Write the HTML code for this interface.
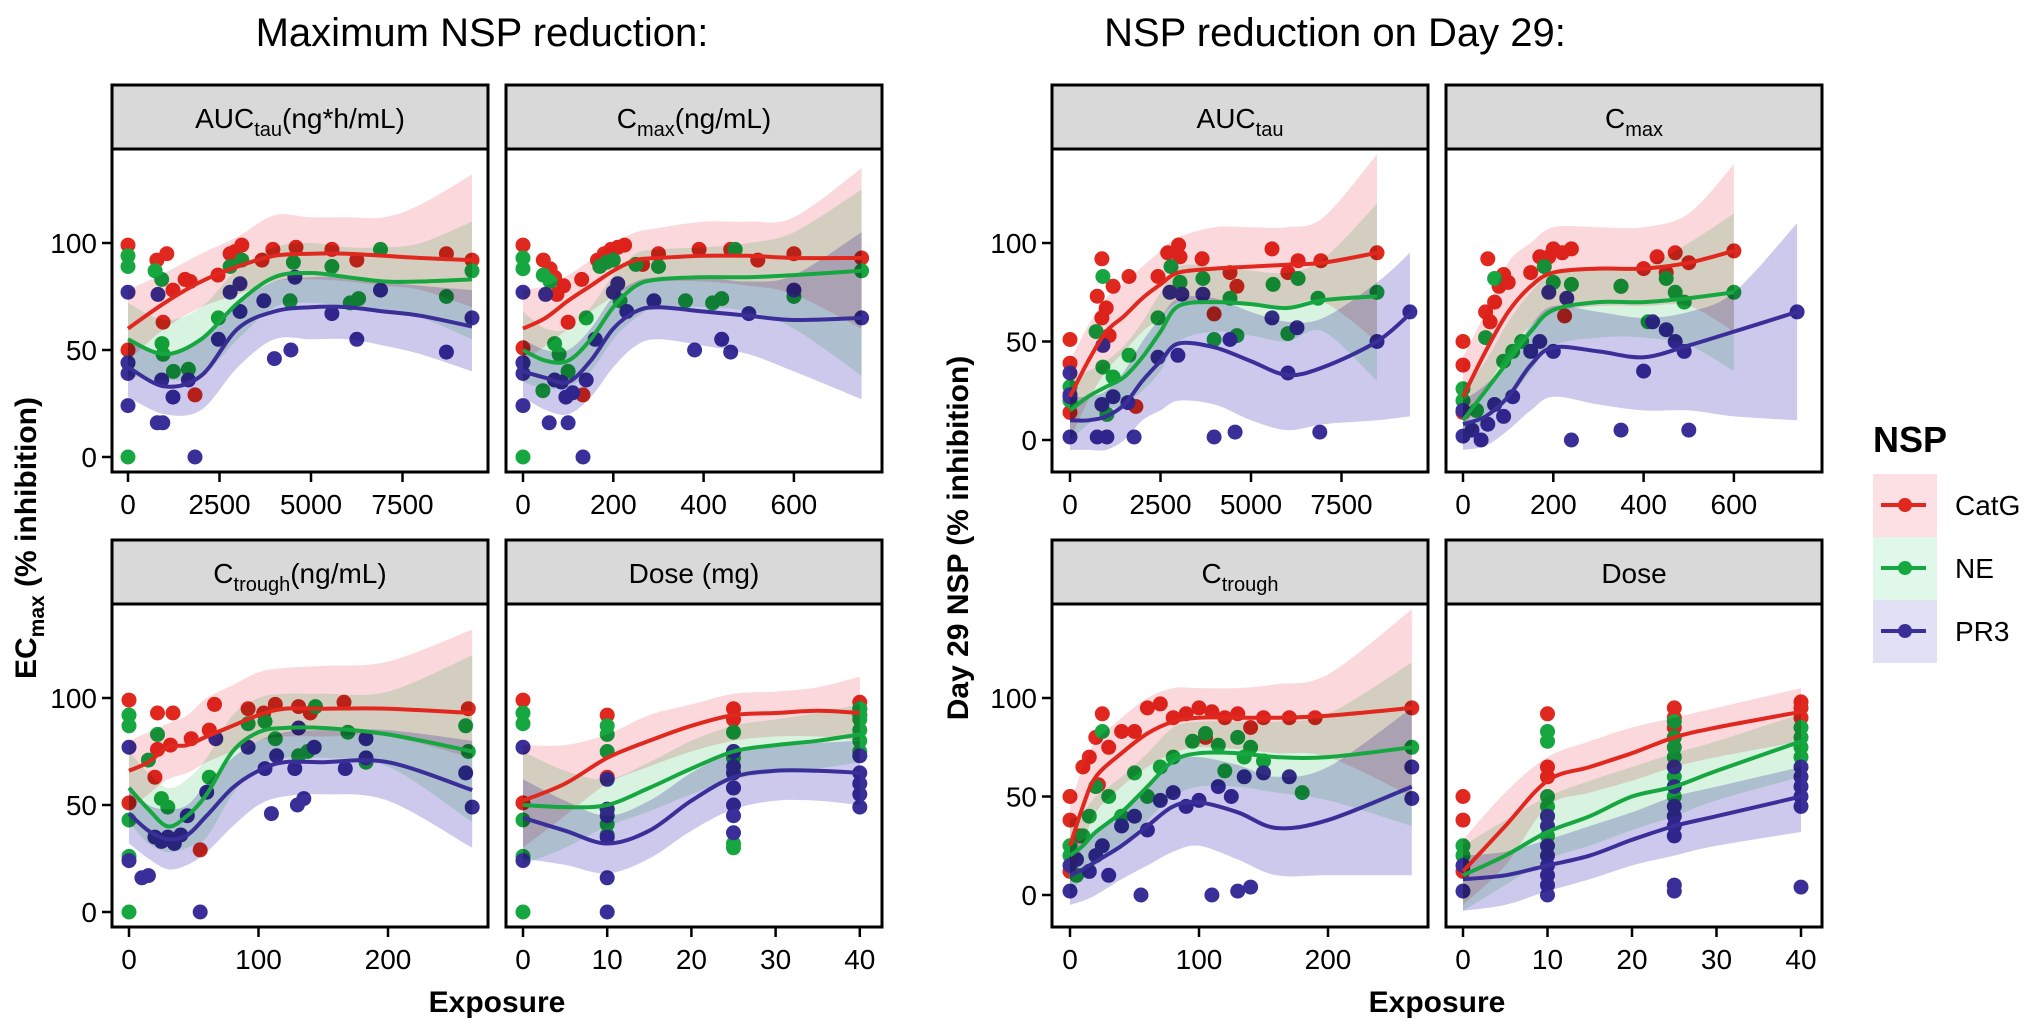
<!DOCTYPE html>
<html><head><meta charset="utf-8"><title>NSP reduction</title>
<style>
html,body{margin:0;padding:0;background:#fff;}
svg{display:block;font-family:"Liberation Sans",Arial,sans-serif;}
.rib{mix-blend-mode:multiply;}
</style></head>
<body>
<svg id="chart" width="2026" height="1027" viewBox="0 0 2026 1027">
<rect x="0" y="0" width="2026" height="1027" fill="#fff"/>
<text x="482" y="46" font-size="40" text-anchor="middle">Maximum NSP reduction:</text>
<text x="1335" y="46" font-size="40" text-anchor="middle">NSP reduction on Day 29:</text>
<g id="panels"></g>
<text transform="translate(36,538) rotate(-90)" font-size="30" font-weight="bold" text-anchor="middle">EC<tspan font-size="21" dy="8">max</tspan><tspan dy="-8"> (% inhibition)</tspan></text>
<text transform="translate(968,538) rotate(-90)" font-size="30" font-weight="bold" text-anchor="middle">Day 29 NSP (% inhibition)</text>
<text x="497" y="1012" font-size="30" font-weight="bold" text-anchor="middle">Exposure</text>
<text x="1437" y="1012" font-size="30" font-weight="bold" text-anchor="middle">Exposure</text>
<g>
<text x="1873" y="452" font-size="36" font-weight="bold">NSP</text>
<g><rect x="1873" y="474" width="64" height="63" fill="#fde0e3"/><line x1="1881" y1="505" x2="1926" y2="505" stroke="#e0281e" stroke-width="4"/><circle cx="1905" cy="505" r="7" fill="#e0281e"/><text x="1955" y="515" font-size="28">CatG</text></g>
<g><rect x="1873" y="537" width="64" height="63" fill="#e0f8e9"/><line x1="1881" y1="568" x2="1926" y2="568" stroke="#16a740" stroke-width="4"/><circle cx="1905" cy="568" r="7" fill="#16a740"/><text x="1955" y="578" font-size="28">NE</text></g>
<g><rect x="1873" y="600" width="64" height="63" fill="#e2e0f5"/><line x1="1881" y1="631" x2="1926" y2="631" stroke="#3a2f98" stroke-width="4"/><circle cx="1905" cy="631" r="7" fill="#3a2f98"/><text x="1955" y="641" font-size="28">PR3</text></g>
</g>
</svg>
<script>
// ---------- Panel LA: Max reduction vs AUC ----------
const laCatgX=[0,0,790,960,1060,1230,1560,1700,1830,2460,2790,2920,3110,3660,3960,4590,5570,6250,8700,9400];
const laCatgY=[99,50,92,63,95,78,83,82,29,85,95,96,99,92,97,98,97,92,95,92];
const laNeX=[0,0,0,0,740,920,930,960,1240,1650,2470,2790,3110,4430,4520,5570,6070,6300,6900,8700,9400];
const laNeY=[94,89,44,0,87,83,53,48,40,41,65,89,92,73,91,89,72,74,97,75,87];
const laPr3X=[0,0,0,0,820,800,950,920,1230,1650,1830,2470,2790,3060,3060,3710,4000,4450,4560,5570,6250,6900,8700,9400];
const laPr3Y=[77,44,39,24,76,16,16,36,28,36,0,55,77,81,68,73,46,50,84,67,55,78,49,65];
const laFitX=[0,1000,2000,3000,4000,5000,6000,7000,8000,9400];
const laCatgFit=[60,72,82,89,94,95,95,94,93,92];
const laCatgLo=[45,60,70,76,82,83,82,80,78,70];
const laCatgHi=[78,86,95,103,113,112,112,112,118,132];
const laNeFit=[55,48,55,72,84,86,84,82,82,83];
const laNeLo=[38,36,38,55,70,72,70,67,65,55];
const laNeHi=[72,64,70,88,98,100,98,98,100,110];
const laPr3Fit=[42,33,38,60,68,70,70,68,66,61];
const laPr3Lo=[28,20,22,42,55,55,55,52,48,40];
const laPr3Hi=[55,48,55,72,82,84,84,82,80,78];
const laTicks=[0,2500,5000,7500];
// ---------- Panel LB: Max reduction vs Cmax ----------
const lbCatgX=[0,0,45,60,70,75,90,100,130,133,165,180,195,210,225,265,300,390,460,520,600,750];
const lbCatgY=[99,51,92,88,84,76,80,63,83,29,92,95,97,98,99,90,95,97,97,92,95,93];
const lbNeX=[0,0,0,0,44,45,60,70,80,100,140,170,185,200,215,250,300,360,420,440,470,600,750];
const lbNeY=[93,88,44,0,31,85,82,53,48,40,65,89,91,92,73,90,89,73,72,74,97,75,87];
const lbPr3X=[0,0,0,0,50,58,70,85,95,100,110,133,140,160,200,210,230,290,380,440,460,500,600,750];
const lbPr3Y=[77,44,39,24,76,16,36,35,28,16,30,0,36,55,77,81,68,73,50,55,49,67,78,65];
const lbFitX=[0,50,100,150,200,250,300,400,500,600,750];
const lbCatgFit=[60,65,73,80,87,92,93,94,94,93,93];
const lbCatgLo=[45,52,60,68,75,80,82,82,80,76,60];
const lbCatgHi=[78,80,85,92,100,105,107,110,110,112,135];
const lbNeFit=[50,45,45,55,70,80,83,84,84,85,87];
const lbNeLo=[35,32,33,40,55,65,70,70,68,60,38];
const lbNeHi=[68,60,60,70,85,95,97,98,100,105,125];
const lbPr3Fit=[40,37,35,45,60,68,70,68,66,64,65];
const lbPr3Lo=[28,22,20,28,42,52,55,52,48,40,27];
const lbPr3Hi=[55,50,50,60,75,82,84,84,82,85,105];
const lbTicks=[0,200,400,600];
// ---------- Panel LC: Max reduction vs Ctrough ----------
const lcCatgX=[0,0,20,22,22,32,34,48,55,62,66,92,104,113,131,140,166,262];
const lcCatgY=[99,51,63,93,76,78,93,81,29,85,97,95,93,97,96,93,98,95];
const lcNeX=[0,0,0,0,0,15,22,25,30,62,92,105,113,131,138,144,169,183,260,262];
const lcNeY=[92,87,43,26,0,71,83,53,49,63,88,89,81,73,75,96,84,70,87,75];
const lcPr3X=[0,0,10,15,20,25,30,35,40,45,55,60,67,92,105,110,114,128,130,131,135,143,167,183,183,260,265];
const lcPr3Y=[77,24,16,17,35,33,35,32,36,45,0,56,81,77,67,46,73,67,50,86,53,77,67,81,72,65,49];
const lcFitX=[0,15,30,45,60,80,100,120,150,200,265];
const lcCatgFit=[66,70,77,78,82,87,92,95,95,95,93];
const lcCatgLo=[48,55,62,65,70,75,80,82,82,82,72];
const lcCatgHi=[80,84,88,92,100,106,112,114,115,117,132];
const lcNeFit=[58,48,40,45,55,75,84,86,86,83,75];
const lcNeLo=[42,32,28,30,35,55,68,72,72,68,42];
const lcNeHi=[75,65,58,62,72,92,100,102,102,103,120];
const lcPr3Fit=[46,38,34,36,45,58,66,70,70,70,57];
const lcPr3Lo=[32,25,20,22,28,40,50,54,55,52,30];
const lcPr3Hi=[58,50,48,50,60,72,80,84,85,85,80];
const lcTicks=[0,100,200];
// ---------- Panel LD: Max reduction vs Dose ----------
const ldCatgX=[0,0,10,10,25,25,40,40,40];
const ldCatgY=[99,51,92,63,95,90,98,95,92];
const ldNeX=[0,0,0,0,0,10,10,10,10,10,10,25,25,25,25,25,25,40,40,40,40,40,40];
const ldNeY=[93,88,43,26,0,87,83,75,48,41,36,84,75,72,58,32,30,95,92,90,85,80,75];
const ldPr3X=[0,0,10,10,10,10,10,10,25,25,25,25,25,25,25,40,40,40,40,40];
const ldPr3Y=[77,24,62,48,45,35,16,0,75,68,65,58,50,45,37,73,65,60,55,49];
const ldFitX=[0,5,10,15,20,25,30,35,40];
const ldCatgFit=[52,60,72,80,87,92,93,94,93];
const ldCatgLo=[30,45,60,68,75,80,82,82,80];
const ldCatgHi=[78,78,83,92,97,102,103,105,110];
const ldNeFit=[50,49,50,58,67,75,78,80,83];
const ldNeLo=[22,30,40,47,55,62,65,67,70];
const ldNeHi=[75,66,62,70,80,87,90,93,97];
const ldPr3Fit=[44,38,32,38,52,63,66,66,65];
const ldPr3Lo=[25,22,18,25,38,48,52,52,50];
const ldPr3Hi=[62,52,45,52,65,75,78,79,80];
const ldTicks=[0,10,20,30,40];
// ---------- Panel RC: Day 29 vs AUC ----------
const rcCatgX=[0,0,0,750,880,880,1000,1080,1190,1630,1820,2430,2700,3000,3040,3650,3980,4420,4610,5580,6020,6300,6930,8480];
const rcCatgY=[51,39,14,73,92,62,67,53,78,83,17,83,95,99,93,92,64,85,78,97,85,91,91,95];
const rcNeX=[0,0,720,910,910,1020,1190,1630,2430,2790,3040,3670,3980,4420,4610,5610,6020,6300,6850,8480];
const rcNeY=[27,20,55,83,37,13,32,43,62,88,80,82,51,72,53,79,54,82,72,75];
const rcPr3X=[0,0,0,0,750,880,910,1020,1190,1600,1770,2430,2760,2980,3090,3670,3980,4420,4560,5580,6020,6270,6900,8480,9390];
const rcPr3Y=[34,22,23,1.5,1.5,18,48,1.5,22,19,1.5,42,75,43,74,74,1.5,51,4,62,34,57,4,50,65];
const rcFitX=[0,500,1000,1500,2000,2500,3000,4000,5000,6000,7000,8480,9390];
const rcCatgFit=[22,40,55,63,72,79,85,87,88,89,90,95,null];
const rcCatgLo=[0,20,35,45,55,62,70,70,68,68,70,50,null];
const rcCatgHi=[40,58,72,80,88,96,103,108,108,108,113,145,null];
const rcNeFit=[15,22,27,32,42,55,68,70,69,67,71,73,null];
const rcNeLo=[0,8,15,18,25,35,50,55,53,50,55,30,null];
const rcNeHi=[30,35,40,48,60,75,88,88,86,85,92,120,null];
const rcPr3Fit=[10,10,12,18,30,40,49,47,40,33,37,50,64];
const rcPr3Lo=[-5,-5,-5,0,10,15,20,18,10,5,8,10,12];
const rcPr3Hi=[22,22,25,35,50,62,72,72,65,60,62,80,95];
const rcTicks=[0,2500,5000,7500];
// ---------- Panel RD: Day 29 vs Cmax ----------
const rdCatgX=[0,0,0,50,55,60,70,80,90,100,150,170,190,200,220,225,240,350,400,430,450,470,500,600];
const rdCatgY=[50,38,14,65,92,60,70,78,84,80,85,93,93,97,95,63,97,78,87,93,85,95,90,96];
const rdNeX=[0,0,30,50,70,90,110,130,180,200,240,350,410,450,470,490,600];
const rdNeY=[26,20,15,52,82,40,45,50,88,80,79,78,60,82,75,70,75];
const rdPr3X=[0,0,20,40,55,70,90,110,150,170,190,200,230,240,350,400,420,450,470,490,500,740];
const rdPr3Y=[2,15,5,0,8,18,12,22,45,50,75,45,72,0,5,35,60,56,50,45,5,65];
const rdFitX=[0,50,100,150,200,300,400,500,600,740];
const rdCatgFit=[22,45,65,78,85,87,87,90,96,null];
const rdCatgLo=[5,25,45,58,65,68,68,68,55,null];
const rdCatgHi=[42,65,90,100,108,108,108,115,140,null];
const rdNeFit=[10,25,40,55,66,70,70,72,75,null];
const rdNeLo=[-3,10,20,35,48,52,52,48,35,null];
const rdNeHi=[25,40,60,75,85,88,88,100,115,null];
const rdPr3Fit=[8,12,22,38,47,45,42,48,55,65];
const rdPr3Lo=[-5,-3,5,15,22,18,15,15,12,10];
const rdPr3Hi=[20,28,40,58,68,65,62,65,75,110];
const rdTicks=[0,200,400,600];
// ---------- Panel RCb: Day 29 vs Ctrough ----------
const rbCatgX=[0,0,0,8,10,15,20,22,25,30,40,50,60,70,80,90,100,105,110,120,130,140,150,170,190,265];
const rbCatgY=[50,38,12,30,65,70,80,56,92,75,83,83,95,97,90,92,95,80,93,90,92,85,90,90,90,95];
const rbNeX=[0,0,5,10,15,20,25,30,40,50,60,70,80,95,105,115,120,130,135,140,150,180,265];
const rbNeY=[25,20,10,30,40,55,83,50,40,62,50,65,70,78,82,76,63,80,70,75,68,52,75];
const rbPr3X=[0,0,5,15,20,25,30,40,50,55,60,70,80,90,100,110,115,125,130,135,140,150,170,265,265];
const rbPr3Y=[2,15,18,12,20,25,10,35,40,0,33,48,52,45,48,0,55,50,2,60,4,62,60,65,49];
const rbFitX=[0,10,20,40,60,80,100,130,160,200,265];
const rbCatgFit=[25,45,60,72,82,88,90,90,90,91,95];
const rbCatgLo=[5,25,42,55,65,72,75,74,72,70,50];
const rbCatgHi=[45,65,78,90,100,105,105,105,107,112,145];
const rbNeFit=[20,25,32,42,55,68,72,72,70,70,75];
const rbNeLo=[2,8,15,25,38,50,55,55,52,48,35];
const rbNeHi=[38,42,50,60,72,85,88,88,88,92,118];
const rbPr3Fit=[10,13,17,25,35,45,47,42,34,38,55];
const rbPr3Lo=[-5,-3,0,8,15,22,25,18,10,10,10];
const rbPr3Hi=[25,28,32,42,55,68,70,66,60,65,95];
const rbTicks=[0,100,200];
// ---------- Panel RDb: Day 29 vs Dose ----------
const rdbCatgX=[0,0,0,10,10,10,25,25,25,40,40,40];
const rdbCatgY=[50,38,12,92,65,60,95,90,85,98,95,90];
const rdbNeX=[0,0,10,10,10,10,10,10,25,25,25,25,25,25,40,40,40,40];
const rdbNeY=[25,20,83,78,50,45,40,30,88,80,75,70,60,50,85,80,75,70];
const rdbPr3X=[0,0,10,10,10,10,10,10,10,10,25,25,25,25,25,25,25,25,40,40,40,40,40,40];
const rdbPr3Y=[15,2,40,35,25,20,15,10,5,0,65,55,45,40,35,30,5,2,65,60,55,50,45,4];
const rdbFitX=[0,5,10,15,20,25,30,40];
const rdbCatgFit=[12,35,58,65,72,80,85,93];
const rdbCatgLo=[-5,15,45,52,58,65,70,78];
const rdbCatgHi=[28,52,70,78,85,90,95,105];
const rdbNeFit=[10,20,32,40,50,55,63,78];
const rdbNeLo=[-8,5,18,25,33,40,48,60];
const rdbNeHi=[25,38,50,58,65,72,78,92];
const rdbPr3Fit=[8,10,15,20,28,35,40,50];
const rdbPr3Lo=[-8,-5,2,8,15,20,25,32];
const rdbPr3Hi=[20,22,28,35,42,50,55,65];
const rdbTicks=[0,10,20,30,40];
const yTicks=[0,50,100];

const NS='http://www.w3.org/2000/svg';
const COL={catg:'#e0281e',ne:'#16a740',pr3:'#3a2f98'};
const RIB={catg:'#fbd8dc',ne:'#d8f3e0',pr3:'#cdc9ec'};
function mk(tag,attrs,parent){const e=document.createElementNS(NS,tag);for(const k in attrs)e.setAttribute(k,attrs[k]);if(parent)parent.appendChild(e);return e;}

const panels=[
 {key:'la',name:'auc-max',label:['AUC','tau','(ng*h/mL)'],left:112,top:149,x0:128,kx:91.5/2500,y0:457,ky:2.14,ticks:laTicks,
  d:[laCatgX,laCatgY,laNeX,laNeY,laPr3X,laPr3Y],f:[laFitX,laCatgFit,laCatgLo,laCatgHi,laNeFit,laNeLo,laNeHi,laPr3Fit,laPr3Lo,laPr3Hi]},
 {key:'lb',name:'cmax-max',label:['C','max','(ng/mL)'],left:506,top:149,x0:523,kx:90.3/200,y0:457,ky:2.14,ticks:lbTicks,
  d:[lbCatgX,lbCatgY,lbNeX,lbNeY,lbPr3X,lbPr3Y],f:[lbFitX,lbCatgFit,lbCatgLo,lbCatgHi,lbNeFit,lbNeLo,lbNeHi,lbPr3Fit,lbPr3Lo,lbPr3Hi]},
 {key:'lc',name:'ctrough-max',label:['C','trough','(ng/mL)'],left:112,top:604,x0:129,kx:129.5/100,y0:912,ky:2.14,ticks:lcTicks,
  d:[lcCatgX,lcCatgY,lcNeX,lcNeY,lcPr3X,lcPr3Y],f:[lcFitX,lcCatgFit,lcCatgLo,lcCatgHi,lcNeFit,lcNeLo,lcNeHi,lcPr3Fit,lcPr3Lo,lcPr3Hi]},
 {key:'ld',name:'dose-max',label:['Dose (mg)','',''],left:506,top:604,x0:523,kx:84.2/10,y0:912,ky:2.14,ticks:ldTicks,
  d:[ldCatgX,ldCatgY,ldNeX,ldNeY,ldPr3X,ldPr3Y],f:[ldFitX,ldCatgFit,ldCatgLo,ldCatgHi,ldNeFit,ldNeLo,ldNeHi,ldPr3Fit,ldPr3Lo,ldPr3Hi]},
 {key:'rc',name:'auc-day29',label:['AUC','tau',''],left:1052,top:149,x0:1070,kx:90.5/2500,y0:440,ky:1.97,ticks:rcTicks,
  d:[rcCatgX,rcCatgY,rcNeX,rcNeY,rcPr3X,rcPr3Y],f:[rcFitX,rcCatgFit,rcCatgLo,rcCatgHi,rcNeFit,rcNeLo,rcNeHi,rcPr3Fit,rcPr3Lo,rcPr3Hi]},
 {key:'rd',name:'cmax-day29',label:['C','max',''],left:1446,top:149,x0:1463,kx:90.3/200,y0:440,ky:1.97,ticks:rdTicks,
  d:[rdCatgX,rdCatgY,rdNeX,rdNeY,rdPr3X,rdPr3Y],f:[rdFitX,rdCatgFit,rdCatgLo,rdCatgHi,rdNeFit,rdNeLo,rdNeHi,rdPr3Fit,rdPr3Lo,rdPr3Hi]},
 {key:'rb',name:'ctrough-day29',label:['C','trough',''],left:1052,top:604,x0:1070,kx:129/100,y0:895,ky:1.97,ticks:rbTicks,
  d:[rbCatgX,rbCatgY,rbNeX,rbNeY,rbPr3X,rbPr3Y],f:[rbFitX,rbCatgFit,rbCatgLo,rbCatgHi,rbNeFit,rbNeLo,rbNeHi,rbPr3Fit,rbPr3Lo,rbPr3Hi]},
 {key:'rdb',name:'dose-day29',label:['Dose','',''],left:1446,top:604,x0:1463,kx:84.5/10,y0:895,ky:1.97,ticks:rdbTicks,
  d:[rdbCatgX,rdbCatgY,rdbNeX,rdbNeY,rdbPr3X,rdbPr3Y],f:[rdbFitX,rdbCatgFit,rdbCatgLo,rdbCatgHi,rdbNeFit,rdbNeLo,rdbNeHi,rdbPr3Fit,rdbPr3Lo,rdbPr3Hi]}
];
const W=376,H=323,SH=64;

function curve(pts,start){
  let d=start?('M'+pts[0][0].toFixed(1)+','+pts[0][1].toFixed(1)):('L'+pts[0][0].toFixed(1)+','+pts[0][1].toFixed(1));
  const n=pts.length;
  for(let i=0;i<n-1;i++){
    const p0=pts[Math.max(i-1,0)],p1=pts[i],p2=pts[i+1],p3=pts[Math.min(i+2,n-1)];
    const c1=[p1[0]+(p2[0]-p0[0])/6,p1[1]+(p2[1]-p0[1])/6];
    const c2=[p2[0]-(p3[0]-p1[0])/6,p2[1]-(p3[1]-p1[1])/6];
    d+=' C'+c1[0].toFixed(1)+','+c1[1].toFixed(1)+' '+c2[0].toFixed(1)+','+c2[1].toFixed(1)+' '+p2[0].toFixed(1)+','+p2[1].toFixed(1);
  }
  return d;
}

const root=document.getElementById('panels');
const defs=mk('defs',{},root);
panels.forEach(p=>{
  const sx=v=>p.x0+v*p.kx, sy=v=>p.y0-v*p.ky;
  const g=mk('g',{},root);
  
  
  const cp=mk('clipPath',{id:'clip-'+p.key},defs);
  mk('rect',{x:p.left,y:p.top,width:W,height:H},cp);
  const strip=mk('rect',{x:p.left,y:p.top-SH,width:W,height:SH,fill:'#d9d9d9',stroke:'#000','stroke-width':3},g);
  
  
  const st=mk('text',{x:p.left+W/2,y:p.top-21,'font-size':28,'text-anchor':'middle'},g);
  
  
  st.appendChild(document.createTextNode(p.label[0]));
  if(p.label[1]){const s=mk('tspan',{'font-size':20,dy:8},st);s.textContent=p.label[1];}
  if(p.label[2]){const s=mk('tspan',{dy:p.label[1]?-8:0},st);s.textContent=p.label[2];}
  const plot=mk('g',{'clip-path':'url(#clip-'+p.key+')'},g);
  const series=['catg','ne','pr3'];
  series.forEach((s,i)=>{
    const xs=p.d[i*2],ys=p.d[i*2+1];
    xs.forEach((xv,j)=>{
      const c=mk('circle',{cx:sx(xv).toFixed(1),cy:sy(ys[j]).toFixed(1),r:7.5,fill:COL[s]},plot);
      
      
    });
  });
  const fx=p.f[0];
  series.forEach((s,i)=>{
    const fit=p.f[1+i*3],lo=p.f[2+i*3],hi=p.f[3+i*3];
    const up=[],dn=[];
    fx.forEach((xv,j)=>{if(fit[j]!==null){up.push([sx(xv),sy(hi[j])]);dn.push([sx(xv),sy(lo[j])]);}});
    dn.reverse();
    const r=mk('path',{d:curve(up,true)+' '+curve(dn,false)+' Z',fill:RIB[s],class:'rib'},plot);
    
    
  });
  series.forEach((s,i)=>{
    const fit=p.f[1+i*3],pts=[];
    fx.forEach((xv,j)=>{if(fit[j]!==null)pts.push([sx(xv),sy(fit[j])]);});
    const l=mk('path',{d:curve(pts,true),fill:'none',stroke:COL[s],'stroke-width':4},plot);
    
    
  });
  mk('rect',{x:p.left,y:p.top,width:W,height:H,fill:'none',stroke:'#000','stroke-width':3},g);
  p.ticks.forEach(t=>{
    const x=sx(t);
    mk('line',{x1:x,y1:p.top+H,x2:x,y2:p.top+H+10,stroke:'#000','stroke-width':2.5},g);
    const tl=mk('text',{x:x,y:p.top+H+42,'font-size':28,'text-anchor':'middle'},g);
    
    
    tl.textContent=t;
  });
  if(p.key==='la'||p.key==='lc'||p.key==='rc'||p.key==='rb'){
    yTicks.forEach(t=>{
      const y=sy(t);
      mk('line',{x1:p.left-10,y1:y,x2:p.left,y2:y,stroke:'#000','stroke-width':2.5},g);
      const tl=mk('text',{x:p.left-15,y:y+10,'font-size':28,'text-anchor':'end'},g);
      
      
      tl.textContent=t;
    });
  }
});
</script>
</body></html>
